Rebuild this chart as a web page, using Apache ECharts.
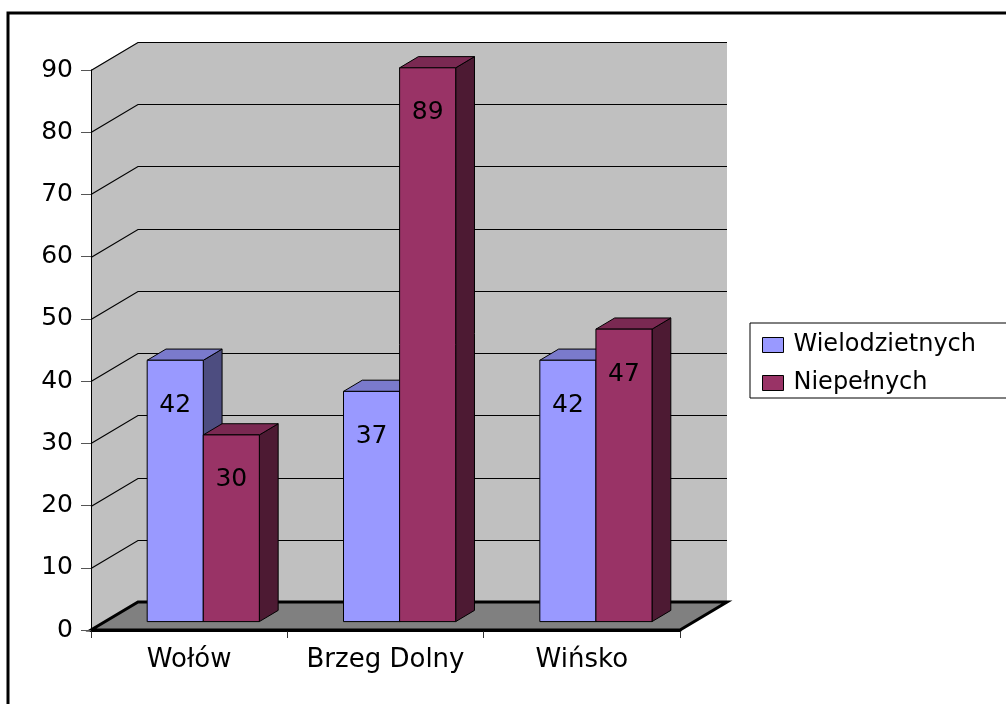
<!DOCTYPE html>
<html>
<head>
<meta charset="utf-8">
<title>Rodziny</title>
<script src="https://cdn.jsdelivr.net/npm/echarts@6/dist/echarts.min.js"></script>
<style>
  html, body { margin: 0; padding: 0; background: #fff; }
  #chart { width: 1006px; height: 704px; }
</style>
</head>
<body>
<div id="chart"></div>
<script>
// data
var categories = ['Wołów', 'Brzeg Dolny', 'Wińsko']
var seriesNames = ['Wielodzietnych', 'Niepełnych']
var wielodzietnych = [42, 37, 42]
var niepelnych = [30, 89, 47]
var yTicks = [0, 10, 20, 30, 40, 50, 60, 70, 80, 90]

// 3d look
var DX = 47, DY = 28          // depth of the floor / walls
var FONT = 'DejaVu Sans'
var faces = [
  { front: '#9999ff', top: '#7a7acc', side: '#4d4d80' },
  { front: '#993366', top: '#7a2952', side: '#4d1a33' }
]

function renderWalls(params, api) {
  var cs = params.coordSys
  var left = cs.x, right = cs.x + cs.width
  var children = []
  var yTop = api.coord([0, yTicks[yTicks.length - 1]])[1]
  var yBot = api.coord([0, yTicks[0]])[1]
  // back wall
  children.push({
    type: 'rect',
    shape: { x: left + DX, y: yTop - DY, width: right - left, height: yBot - yTop },
    style: { fill: '#c0c0c0' }
  })
  // left wall
  children.push({
    type: 'polygon',
    shape: { points: [[left, yTop], [left + DX, yTop - DY], [left + DX, yBot - DY], [left, yBot]] },
    style: { fill: '#c0c0c0' }
  })
  yTicks.forEach(function (t) {
    var y = Math.round(api.coord([0, t])[1]) + 0.5
    children.push({
      type: 'polyline',
      shape: { points: [[left, y], [left + DX, y - DY], [right + DX, y - DY]] },
      style: { stroke: '#000', lineWidth: 1.2, fill: null }
    })
  })
  // floor
  children.push({
    type: 'polygon',
    shape: { points: [[left, yBot], [right, yBot], [right + DX, yBot - DY], [left + DX, yBot - DY]] },
    style: { fill: '#808080', stroke: '#000', lineWidth: 3 }
  })
  return { type: 'group', children: children }
}

function makeBarRenderer(s) {
  return function (params, api) {
    var ci = api.value(0)
    var v = api.value(1)
    var base = api.coord([ci, 0])
    var top = api.coord([ci, v])
    var catW = api.size([1, 0])[0]
    var w = catW * 0.2857
    var sx = DX * 0.3, sy = DY * 0.3
    var bdx = DX * 0.4, bdy = DY * 0.4
    var x0 = base[0] + (s - 1) * w + sx
    var x1 = x0 + w
    var y0 = top[1] - sy
    var y1 = base[1] - sy
    var c = faces[s]
    var line = { stroke: '#000', lineWidth: 1 }
    return {
      type: 'group',
      children: [
        {
          type: 'polygon',
          shape: { points: [[x1, y0], [x1 + bdx, y0 - bdy], [x1 + bdx, y1 - bdy], [x1, y1]] },
          style: Object.assign({ fill: c.side }, line)
        },
        {
          type: 'polygon',
          shape: { points: [[x0, y0], [x1, y0], [x1 + bdx, y0 - bdy], [x0 + bdx, y0 - bdy]] },
          style: Object.assign({ fill: c.top }, line)
        },
        {
          type: 'rect',
          shape: { x: x0, y: y0, width: w, height: y1 - y0 },
          style: Object.assign({ fill: c.front }, line)
        },
        {
          type: 'text',
          style: {
            text: String(v), x: (x0 + x1) / 2, y: y0 + 45,
            align: 'center', verticalAlign: 'middle',
            fontSize: 25, fontFamily: FONT, fill: '#000'
          }
        }
      ]
    }
  }
}

var chart = echarts.init(document.getElementById('chart'))
var values = [wielodzietnych, niepelnych]

chart.setOption({
  animation: false,
  backgroundColor: '#fff',
  graphic: [{
    type: 'rect',
    shape: { x: 8, y: 13, width: 1100, height: 800 },
    style: { fill: null, stroke: '#000', lineWidth: 3 },
    z: 10
  }],
  legend: {
    orient: 'vertical',
    left: 750,
    top: 323,
    data: seriesNames,
    itemWidth: 21,
    itemHeight: 15,
    itemGap: 14,
    padding: [10, 60, 3, 12],
    borderColor: '#000',
    borderWidth: 1,
    icon: 'rect',
    itemStyle: { borderColor: '#000', borderWidth: 1 },
    textStyle: { fontSize: 24, fontFamily: FONT, color: '#000', padding: [0, 0, 0, 5] }
  },
  grid: {
    left: 91,
    right: 326,
    top: 70,
    bottom: 74,
    containLabel: false
  },
  xAxis: {
    type: 'category',
    data: categories,
    axisLine: { show: true, lineStyle: { color: '#000', width: 3 } },
    axisTick: { show: true, interval: 0, length: 8, lineStyle: { color: '#333' } },
    axisLabel: { interval: 0, margin: 17, fontSize: 26, fontFamily: FONT, color: '#000' },
    splitLine: { show: false }
  },
  yAxis: {
    type: 'value',
    min: 0,
    max: 90,
    interval: 10,
    z: 5,
    axisLine: { show: true, lineStyle: { color: '#000', width: 1 } },
    axisTick: { show: true, length: 10, lineStyle: { color: '#555' } },
    axisLabel: { margin: 18, fontSize: 25, fontFamily: FONT, color: '#000' },
    splitLine: { show: false }
  },
  series: [
    {
      name: 'walls',
      type: 'custom',
      z: 1,
      silent: true,
      data: [[0, 0]],
      renderItem: renderWalls
    }
  ].concat(seriesNames.map(function (name, s) {
    return {
      name: name,
      type: 'custom',
      z: 2 + s,
      itemStyle: { color: faces[s].front },
      data: categories.map(function (c, i) { return [i, values[s][i]] }),
      renderItem: makeBarRenderer(s)
    }
  }))
})
</script>
</body>
</html>
